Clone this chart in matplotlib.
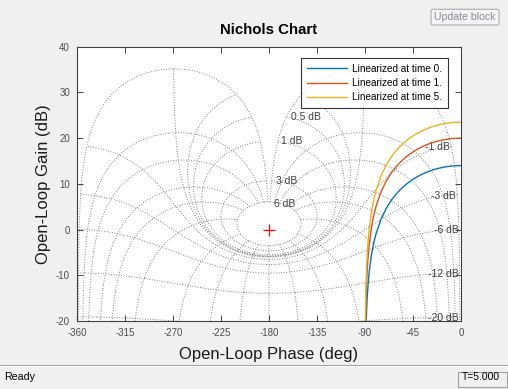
import numpy as np
import matplotlib
matplotlib.use('Agg')
import matplotlib.pyplot as plt
from matplotlib.patches import FancyBboxPatch, Rectangle
from matplotlib.lines import Line2D

# ---------------- data ----------------
phase_deg = [0, -5, -10, -15, -20, -25, -30, -35, -40, -45, -50, -55, -60, -65,
             -70, -75, -80, -82, -84, -86, -87, -88, -88.5, -89, -89.3, -89.5, -89.7]
gain_t0 = [14.0, 13.97, 13.87, 13.70, 13.46, 13.15, 12.75, 12.27, 11.69, 10.99,
           10.16, 9.17, 7.98, 6.52, 4.68, 2.26, -1.21, -3.13, -5.62, -9.13,
           -11.62, -15.14, -17.64, -21.16, -24.26, -27.18, -31.62]
gain_t1 = [20.0, 19.97, 19.87, 19.70, 19.46, 19.15, 18.75, 18.27, 17.69, 16.99,
           16.16, 15.17, 13.98, 12.52, 10.68, 8.26, 4.79, 2.87, 0.38, -3.13,
           -5.62, -9.14, -11.64, -15.16, -18.26, -21.18, -25.62]
gain_t5 = [23.5, 23.47, 23.37, 23.20, 22.96, 22.65, 22.25, 21.77, 21.19, 20.49,
           19.66, 18.67, 17.48, 16.02, 14.18, 11.76, 8.29, 6.37, 3.88, 0.37,
           -2.12, -5.64, -8.14, -11.66, -14.76, -17.68, -22.12]
series_labels = ['Linearized at time 0.', 'Linearized at time 1.', 'Linearized at time 5.']
series_colors = ['#0072BD', '#D95319', '#EDB120']

x_ticks = [-360, -315, -270, -225, -180, -135, -90, -45, 0]
y_ticks = [-20, -10, 0, 10, 20, 30, 40]

# Nichols grid levels (closed-loop gain in dB, closed-loop phase in deg)
grid_gain_db = [6, 3, 1, 0.5, 0.25, 0, -1, -3, -6, -12, -20, -40]
grid_phase_deg = [-1, -5, -10, -20, -30, -50, -90, -120, -150, -180,
                  -210, -240, -270, -310, -330, -340, -350, -355, -359]

label_text = ['6 dB', '3 dB', '1 dB', '0.5 dB',
              '-1 dB', '-3 dB', '-6 dB', '-12 dB', '-20 dB']
label_phase = [-165.0, -163.1, -158.4, -145.8,
               -22.0, -16.4, -13.6, -16.9, -16.4]
label_gain = [5.6, 10.6, 19.4, 24.6,
              18.0, 7.3, -0.1, -9.7, -19.4]

# ---------------- figure ----------------
W, H = 508, 389
fig = plt.figure(figsize=(W / 100, H / 100), dpi=100, facecolor='#f0f0f0')
plt.rcParams['font.family'] = ['Liberation Sans', 'DejaVu Sans']

ax_l, ax_r, ax_t, ax_b = 77, 461, 46.7, 321
ax = fig.add_axes([ax_l / W, 1 - ax_b / H, (ax_r - ax_l) / W, (ax_b - ax_t) / H])
ax.set_facecolor('white')

# Nichols grid: iso-gain lines
gcol = '0.5'
theta = np.radians(np.linspace(-1, -359, 8000))
for g in grid_gain_db:
    m = 10 ** (g / 20)
    T = m * np.exp(1j * theta)
    one = 1 - T
    ph = np.degrees(theta - np.angle(one))
    gn = 20 * np.log10(m / np.abs(one))
    ax.plot(ph, gn, ls=':', color=gcol, lw=0.7, zorder=1)

# iso-phase lines
mdb = np.linspace(6, -60, 30000)
t = 10 ** (mdb / 20)
for p in grid_phase_deg:
    T = t * np.exp(1j * np.radians(p))
    ph = p - np.degrees(np.angle(1 - T))
    gn = 20 * np.log10(t / np.abs(1 - T))
    ax.plot(ph, gn, ls=':', color=gcol, lw=0.7, zorder=1)

for txt, px, gy in zip(label_text, label_phase, label_gain):
    ax.text(px, gy, txt, ha='center', va='center', fontsize=7.5, color='0.25', zorder=2)

# critical point
ax.plot([-180], [0], marker='+', color='red', ms=9, mew=0.9, zorder=3)

# data series
handles = []
for gains, lab, col in zip([gain_t0, gain_t1, gain_t5], series_labels, series_colors):
    h, = ax.plot(phase_deg, gains, color=col, lw=1.0, label=lab, zorder=4)
    handles.append(h)

ax.set_xlim(-360, 0)
ax.set_ylim(-20, 40)
ax.set_xticks(x_ticks)
ax.set_yticks(y_ticks)
ax.set_xticklabels([str(v) for v in x_ticks])
ax.set_yticklabels([str(v) for v in y_ticks])
ax.tick_params(direction='in', length=4, width=0.6, colors='0.15', labelcolor='0.3',
               labelsize=7, top=True, right=True, pad=5)
for s in ax.spines.values():
    s.set_color('0.25')
    s.set_linewidth(0.8)

leg = ax.legend(handles=handles, loc='upper right',
                bbox_to_anchor=((448 - ax_l) / (ax_r - ax_l), (ax_b - 58) / (ax_b - ax_t)),
                borderaxespad=0, fontsize=7.2, frameon=True, fancybox=False,
                edgecolor='black', handlelength=4.0, handletextpad=0.55,
                labelspacing=0.45, borderpad=0.55)
leg.get_frame().set_linewidth(0.8)
leg.set_zorder(10)

# titles / labels
fig.text(269 / W, 1 - 30 / H, 'Nichols Chart', ha='center', va='center',
         fontsize=10.8, fontweight='bold', color='black')
fig.text(269 / W, 1 - 354 / H, 'Open-Loop Phase (deg)', ha='center', va='center',
         fontsize=12, color='0.1')
fig.text(44 / W, 1 - 184 / H, 'Open-Loop Gain (dB)', ha='center', va='center',
         fontsize=12, color='0.1', rotation=90)

# Update block button
btn = FancyBboxPatch((431 / W, 1 - 25 / H), 68 / W, 15.7 / H,
                     boxstyle='round,pad=0,rounding_size=0.004',
                     transform=fig.transFigure, facecolor='#f4f4f4',
                     edgecolor='#adadad', lw=0.8)
fig.patches.append(btn)
fig.text(465 / W, 1 - 17.3 / H, 'Update block', ha='center', va='center',
         fontsize=7.6, color='#8a8a96')

# status bar
fig.lines.append(Line2D([0, 1], [1 - 365 / H, 1 - 365 / H], transform=fig.transFigure,
                        color='#a0a0a0', lw=0.8))
fig.lines.append(Line2D([0, 1], [1 - 366 / H, 1 - 366 / H], transform=fig.transFigure,
                        color='white', lw=0.8))
fig.text(4 / W, 1 - 377 / H, 'Ready', ha='left', va='center', fontsize=7.7, color='black')
box = Rectangle((457.7 / W, 1 - 386.7 / H), 49 / W, 15 / H, transform=fig.transFigure,
                facecolor='#f0f0f0', edgecolor='#a0a0a0', lw=0.8)
fig.patches.append(box)
fig.text(461.7 / W, 1 - 377.3 / H, 'T=5.000', ha='left', va='center', fontsize=7.5,
         color='black')

fig.savefig('out.png', dpi=100, facecolor=fig.get_facecolor())
